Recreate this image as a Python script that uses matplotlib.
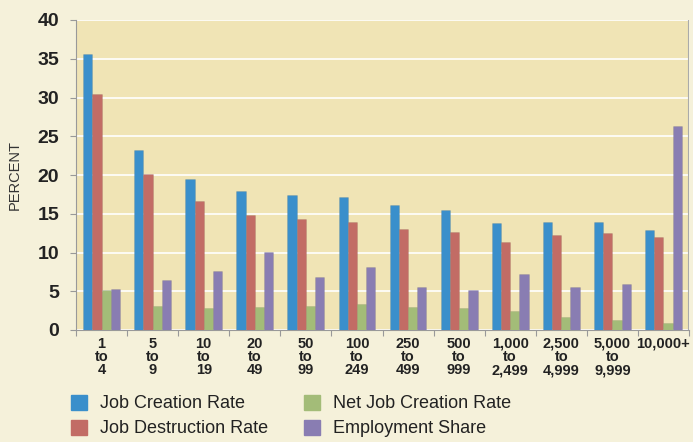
import numpy as np
from matplotlib import pyplot as plt
from matplotlib.patches import Patch

size_labels = ["1\nto\n4", "5\nto\n9", "10\nto\n19", "20\nto\n49", "50\nto\n99",
               "100\nto\n249", "250\nto\n499", "500\nto\n999", "1,000\nto\n2,499",
               "2,500\nto\n4,999", "5,000\nto\n9,999", "10,000+"]
job_creation = [35.6, 23.2, 19.5, 17.9, 17.4, 17.2, 16.1, 15.5, 13.8, 14.0, 13.9, 12.9]
job_destruction = [30.4, 20.1, 16.6, 14.8, 14.3, 13.9, 13.0, 12.6, 11.4, 12.2, 12.5, 12.0]
net_job_creation = [5.1, 3.1, 2.8, 3.0, 3.1, 3.3, 3.0, 2.8, 2.4, 1.7, 1.3, 0.9]
employment_share = [5.3, 6.4, 7.6, 10.1, 6.8, 8.1, 5.5, 5.1, 7.2, 5.5, 5.9, 26.3]
series_names = ["Job Creation Rate", "Job Destruction Rate",
                "Net Job Creation Rate", "Employment Share"]

COLORS = ["#3A8FCB", "#C26C65", "#A3BC78", "#897DB2"]
FIG_BG = "#F5F1DA"
AX_BG = "#F0E4B5"
FONT = ["Liberation Sans", "DejaVu Sans"]


def main():
    plt.rcParams["font.family"] = FONT
    fig = plt.figure(figsize=(6.93, 4.42), dpi=100, facecolor=FIG_BG)
    ax = fig.add_axes([76 / 693, 1 - 330 / 442, 613 / 693, 310 / 442])
    ax.set_facecolor(AX_BG)

    x = np.arange(len(size_labels))
    width = 0.18
    series = [job_creation, job_destruction, net_job_creation, employment_share]
    for i, (vals, color) in enumerate(zip(series, COLORS)):
        ax.bar(x + (i - 1.5) * width, vals, width, color=color, zorder=3,
               edgecolor="#00000018", linewidth=0.5)

    ax.set_xlim(-0.5, len(size_labels) - 0.5)
    ax.set_ylim(0, 40)
    ax.set_yticks(range(0, 41, 5))
    ax.yaxis.grid(True, color="white", linewidth=1.2, zorder=1)
    ax.set_axisbelow(True)

    ax.set_xticks(np.arange(len(size_labels) + 1) - 0.5)
    ax.set_xticklabels([])
    ax.tick_params(axis="x", length=4, color="#999999")
    ax.tick_params(axis="y", length=4, color="#999999", labelsize=14, pad=8)
    for lab in ax.get_yticklabels():
        lab.set_fontweight("bold")
        lab.set_color("#222222")

    for xi, lab in zip(x, size_labels):
        ax.text(xi, -0.9, lab, ha="center", va="top", fontsize=10.5,
                fontweight="bold", color="#222222", linespacing=0.92)

    for side in ["top", "right"]:
        ax.spines[side].set_visible(False)
    ax.spines["left"].set_color("#999999")
    ax.spines["bottom"].set_color("#999999")
    ax.axvline(len(size_labels) - 0.5, color="#aaaaaa", linewidth=1.5)

    fig.text(15 / 693, 1 - 175 / 442, "PERCENT", rotation=90, ha="center",
             va="center", fontsize=10.5, color="#333333")

    handles = [Patch(color=c) for c in COLORS]
    fig.legend(handles, series_names,
               loc="upper left", bbox_to_anchor=(58 / 693, 1 - 382 / 442),
               ncol=2, frameon=False, fontsize=13, handlelength=0.9,
               handleheight=0.9, columnspacing=2.0, labelspacing=0.4,
               handletextpad=0.7, labelcolor="#222222", borderpad=0.2)

    fig.savefig("out.png", dpi=100, facecolor=FIG_BG)


if __name__ == "__main__":
    main()
